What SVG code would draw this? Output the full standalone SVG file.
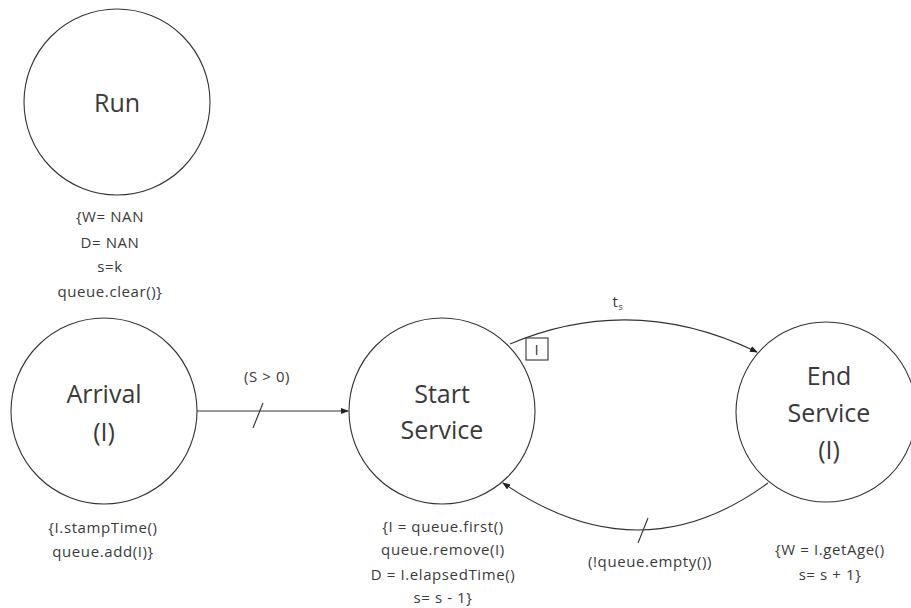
<svg xmlns="http://www.w3.org/2000/svg" width="911" height="608" viewBox="0 0 911 608">
<style>
.node{fill:#fff;stroke:#333;stroke-width:1.1}
.big{font-family:"Open Sans","Noto Sans",sans-serif;font-size:25px;fill:#3a3a3a;text-anchor:middle}
.small{font-family:"Open Sans","Noto Sans",sans-serif;font-size:15px;letter-spacing:0.6px;fill:#3a3a3a;text-anchor:middle}
.edge{fill:none;stroke:#333;stroke-width:1.1}
</style>
<defs>
<marker id="arr" markerWidth="8" markerHeight="6" refX="7" refY="3" orient="auto" markerUnits="userSpaceOnUse">
<path d="M0,0 L8,3 L0,6 Z" fill="#222"/>
</marker>
</defs>
<rect width="911" height="608" fill="#fff"/>
<g id="connectors">
<line class="edge" x1="197" y1="411" x2="348" y2="411" marker-end="url(#arr)"/>
<line class="edge" x1="253" y1="428" x2="263" y2="403"/>
<text class="small" x="267" y="382">(S &gt; 0)</text>
<path class="edge" d="M510,344 Q633,292 757,352" marker-end="url(#arr)"/>
<rect x="526" y="338" width="22" height="22" fill="#fff" stroke="#333" stroke-width="1.1"/>
<text class="small" x="537" y="355">I</text>
<text class="small" x="618" y="307">t<tspan font-size="9" dy="3">s</tspan></text>
<path class="edge" d="M768,483 Q640,577 503,483" marker-end="url(#arr)"/>
<line class="edge" x1="638" y1="543" x2="648" y2="518"/>
<text class="small" x="650" y="567">(!queue.empty())</text>
</g>
<g id="run">
<circle class="node" cx="117" cy="102" r="93"/>
<text class="big" x="117" y="112">Run</text>
<text class="small" x="110" y="222">{W= NAN</text>
<text class="small" x="110" y="248">D= NAN</text>
<text class="small" x="110" y="272">s=k</text>
<text class="small" x="110" y="297">queue.clear()}</text>
</g>
<g id="arrival">
<circle class="node" cx="104" cy="411" r="93"/>
<text class="big" x="104" y="403">Arrival</text>
<text class="big" x="104" y="441">(I)</text>
<text class="small" x="103" y="533">{I.stampTime()</text>
<text class="small" x="103" y="557">queue.add(I)}</text>
</g>
<g id="start-service">
<circle class="node" cx="442" cy="411" r="93"/>
<text class="big" x="442" y="403">Start</text>
<text class="big" x="442" y="439">Service</text>
<text class="small" x="443" y="532">{I = queue.first()</text>
<text class="small" x="443" y="555">queue.remove(I)</text>
<text class="small" x="443" y="580">D = I.elapsedTime()</text>
<text class="small" x="443" y="603">s= s - 1}</text>
</g>
<g id="end-service">
<circle class="node" cx="826" cy="412" r="90"/>
<text class="big" x="829" y="385">End</text>
<text class="big" x="829" y="422">Service</text>
<text class="big" x="829" y="459">(I)</text>
<text class="small" x="830" y="555">{W = I.getAge()</text>
<text class="small" x="830" y="580">s= s + 1}</text>
</g>
</svg>
